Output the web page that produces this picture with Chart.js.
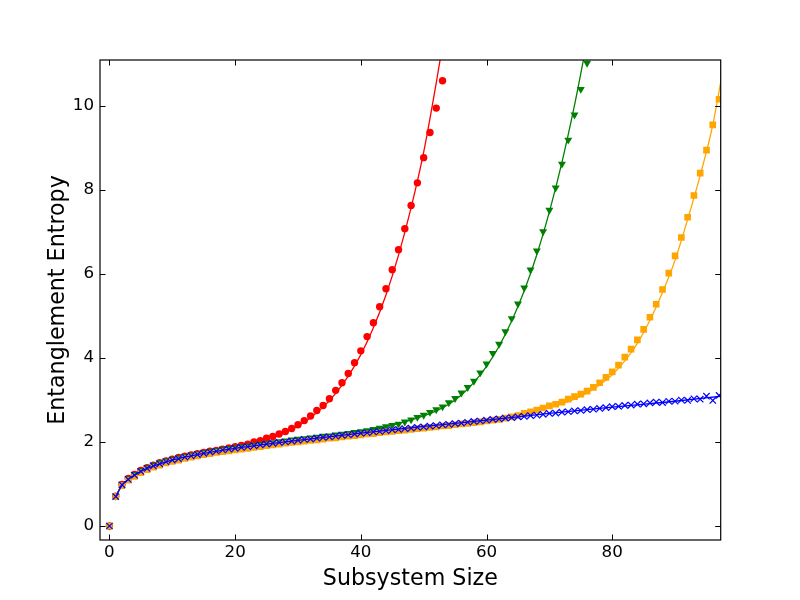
<!DOCTYPE html>
<html>
<head>
<meta charset="utf-8">
<script src="https://cdn.jsdelivr.net/npm/chart.js@4/dist/chart.umd.min.js"></script>
<style>
  html, body { margin: 0; padding: 0; background: #fff; }
  canvas { display: block; }
</style>
</head>
<body>
<canvas id="c" width="800" height="600"></canvas>
<script>
// ---- data ----
const xTicks = [0, 20, 40, 60, 80];
const yTicks = [0, 2, 4, 6, 8, 10];

const sizes = [
  0, 1, 2, 3, 4, 5, 6, 7, 8, 9,
  10, 11, 12, 13, 14, 15, 16, 17, 18, 19,
  20, 21, 22, 23, 24, 25, 26, 27, 28, 29,
  30, 31, 32, 33, 34, 35, 36, 37, 38, 39,
  40, 41, 42, 43, 44, 45, 46, 47, 48, 49,
  50, 51, 52, 53, 54, 55, 56, 57, 58, 59,
  60, 61, 62, 63, 64, 65, 66, 67, 68, 69,
  70, 71, 72, 73, 74, 75, 76, 77, 78, 79,
  80, 81, 82, 83, 84, 85, 86, 87, 88, 89,
  90, 91, 92, 93, 94, 95, 96, 97
];

const redY = [
  0, 0.71, 0.99, 1.13, 1.23, 1.32, 1.39, 1.45, 1.51, 1.55,
  1.59, 1.63, 1.66, 1.69, 1.72, 1.75, 1.78, 1.80, 1.83, 1.86,
  1.89, 1.92, 1.95, 2.00, 2.03, 2.09, 2.13, 2.19, 2.25, 2.32,
  2.41, 2.51, 2.62, 2.75, 2.87, 3.03, 3.23, 3.41, 3.63, 3.89,
  4.17, 4.51, 4.84, 5.22, 5.65, 6.10, 6.58, 7.08, 7.63, 8.17,
  8.77, 9.37, 9.95, 10.60
];

const greenY = [
  0, 0.71, 0.99, 1.13, 1.23, 1.32, 1.39, 1.45, 1.51, 1.55,
  1.59, 1.63, 1.66, 1.69, 1.72, 1.75, 1.78, 1.80, 1.83, 1.85,
  1.87, 1.89, 1.91, 1.93, 1.95, 1.97, 1.99, 2.01, 2.03, 2.05,
  2.07, 2.08, 2.10, 2.12, 2.14, 2.15, 2.17, 2.19, 2.21, 2.23,
  2.25, 2.27, 2.30, 2.33, 2.37, 2.40, 2.43, 2.48, 2.53, 2.59,
  2.64, 2.71, 2.77, 2.84, 2.94, 3.04, 3.17, 3.30, 3.45, 3.65,
  3.86, 4.11, 4.33, 4.63, 4.94, 5.29, 5.67, 6.10, 6.55, 7.01,
  7.52, 8.05, 8.62, 9.19, 9.79, 10.40, 11.02
];

const orangeY = [
  0, 0.70, 0.96, 1.09, 1.18, 1.27, 1.34, 1.40, 1.45, 1.50,
  1.54, 1.57, 1.61, 1.64, 1.67, 1.70, 1.72, 1.75, 1.77, 1.79,
  1.81, 1.83, 1.85, 1.87, 1.89, 1.91, 1.93, 1.95, 1.97, 1.99,
  2.00, 2.02, 2.04, 2.05, 2.07, 2.09, 2.10, 2.12, 2.14, 2.15,
  2.17, 2.19, 2.20, 2.22, 2.24, 2.25, 2.27, 2.28, 2.30, 2.32,
  2.33, 2.35, 2.36, 2.38, 2.39, 2.41, 2.43, 2.44, 2.46, 2.48,
  2.50, 2.52, 2.54, 2.57, 2.60, 2.63, 2.68, 2.72, 2.76, 2.81,
  2.86, 2.90, 2.95, 3.02, 3.08, 3.14, 3.21, 3.30, 3.41, 3.54,
  3.67, 3.83, 4.02, 4.21, 4.43, 4.68, 4.97, 5.28, 5.63, 6.02,
  6.43, 6.87, 7.35, 7.87, 8.40, 8.95, 9.55, 10.16
];

const blueY = [
  0, 0.70, 0.98, 1.11, 1.21, 1.30, 1.37, 1.43, 1.48, 1.53,
  1.57, 1.60, 1.64, 1.67, 1.70, 1.73, 1.76, 1.78, 1.81, 1.83,
  1.85, 1.87, 1.89, 1.91, 1.93, 1.95, 1.97, 1.99, 2.00, 2.02,
  2.04, 2.06, 2.07, 2.09, 2.11, 2.12, 2.14, 2.16, 2.17, 2.19,
  2.21, 2.22, 2.24, 2.25, 2.27, 2.29, 2.30, 2.32, 2.33, 2.35,
  2.36, 2.38, 2.39, 2.41, 2.42, 2.44, 2.45, 2.47, 2.49, 2.50,
  2.52, 2.54, 2.55, 2.57, 2.58, 2.60, 2.61, 2.63, 2.64, 2.66,
  2.68, 2.69, 2.71, 2.72, 2.74, 2.75, 2.77, 2.78, 2.80, 2.82,
  2.84, 2.85, 2.87, 2.88, 2.90, 2.91, 2.93, 2.95, 2.94, 2.97,
  2.97, 3.00, 2.99, 3.03, 3.02, 3.09, 2.99, 3.11
];

// fitted curves
const redFitX = [1, 2, 3, 4, 5, 6, 8, 10, 12, 15, 20, 22, 24, 26, 28, 30, 32, 34, 36, 38, 40, 42, 44, 46, 48, 50, 52, 53];
const redFitY = [0.70, 0.98, 1.12, 1.22, 1.31, 1.38, 1.49, 1.58, 1.65, 1.74, 1.87, 1.93, 2.01, 2.11, 2.23, 2.38, 2.58, 2.83, 3.16, 3.57, 4.08, 4.72, 5.50, 6.45, 7.58, 8.90, 10.55, 11.45];

const greenFitX = [1, 2, 3, 4, 5, 6, 8, 10, 12, 15, 20, 25, 30, 35, 40, 45, 50, 52, 54, 56, 58, 60, 62, 64, 66, 68, 70, 72, 74, 76];
const greenFitY = [0.70, 0.98, 1.12, 1.22, 1.31, 1.38, 1.49, 1.58, 1.65, 1.74, 1.86, 1.96, 2.05, 2.13, 2.24, 2.40, 2.62, 2.74, 2.90, 3.12, 3.42, 3.80, 4.28, 4.88, 5.60, 6.46, 7.48, 8.66, 10.02, 11.55];

const orangeFitX = [1, 2, 3, 4, 5, 6, 8, 10, 12, 15, 20, 25, 30, 40, 50, 60, 65, 70, 74, 76, 78, 80, 82, 84, 86, 88, 90, 92, 94, 96, 98];
const orangeFitY = [0.70, 0.96, 1.10, 1.19, 1.28, 1.35, 1.46, 1.55, 1.62, 1.71, 1.82, 1.92, 2.01, 2.18, 2.34, 2.50, 2.62, 2.82, 3.02, 3.17, 3.36, 3.60, 3.93, 4.35, 4.90, 5.56, 6.33, 7.30, 8.35, 9.55, 11.20];

const blueFitX = [1, 2, 3, 4, 5, 6, 8, 10, 12, 15, 20, 25, 30, 40, 50, 60, 70, 80, 90, 97.3];
const blueFitY = [0.70, 0.97, 1.11, 1.21, 1.30, 1.37, 1.48, 1.57, 1.64, 1.73, 1.85, 1.95, 2.04, 2.21, 2.37, 2.52, 2.68, 2.83, 2.97, 3.09];

// ---- helpers ----
const pts = (xs, ys) => ys.map((v, i) => ({ x: xs[i], y: v }));

const RED = '#ff0000', GREEN = '#008000', ORANGE = '#ffa500', BLUE = '#0000ff';

function markerSet(ys, color, style, radius, order, extra) {
  return Object.assign({
    data: pts(sizes, ys),
    showLine: false,
    pointStyle: style,
    pointRadius: radius,
    pointHoverRadius: radius,
    backgroundColor: color,
    borderColor: color,
    pointBorderWidth: 0,
    borderWidth: 0,
    order: order,
    clip: 0
  }, extra || {});
}
function fitSet(xs, ys, color, order) {
  return {
    data: pts(xs, ys),
    showLine: true,
    pointRadius: 0,
    pointHoverRadius: 0,
    borderColor: color,
    backgroundColor: color,
    borderWidth: 1.3,
    fill: false,
    cubicInterpolationMode: 'monotone',
    order: order,
    clip: 0
  };
}

const frameTicks = {
  id: 'frameTicks',
  beforeDraw(chart) {
    const c = chart.ctx;
    c.save();
    c.fillStyle = '#fff';
    c.fillRect(0, 0, chart.width, chart.height);
    c.restore();
  },
  afterDraw(chart) {
    const c = chart.ctx;
    const { left, right, top, bottom } = chart.chartArea;
    const xs = chart.scales.x, ys = chart.scales.y;
    const L = 5.5;
    c.save();
    c.strokeStyle = '#000';
    c.lineWidth = 1;
    c.beginPath();
    xTicks.forEach(v => {
      const p = Math.round(xs.getPixelForValue(v)) + 0.5;
      c.moveTo(p, bottom); c.lineTo(p, bottom - L);
      c.moveTo(p, top); c.lineTo(p, top + L);
    });
    yTicks.forEach(v => {
      const p = Math.round(ys.getPixelForValue(v)) + 0.5;
      c.moveTo(left, p); c.lineTo(left + L, p);
      c.moveTo(right, p); c.lineTo(right - L, p);
    });
    c.stroke();
    c.lineWidth = 1.2;
    c.strokeRect(left, top, right - left, bottom - top);
    c.restore();
  }
};

const FONT = 'DejaVu Sans';

new Chart(document.getElementById('c'), {
  type: 'scatter',
  data: {
    datasets: [
      markerSet(blueY, BLUE, 'crossRot', 4.5, 0, { borderWidth: 1.2, pointBorderWidth: 1.2 }),
      fitSet(blueFitX, blueFitY, BLUE, 1),
      markerSet(orangeY, ORANGE, 'rect', 4.7, 2),
      fitSet(orangeFitX, orangeFitY, ORANGE, 3),
      markerSet(greenY, GREEN, 'triangle', 4.6, 4, { pointRotation: 180 }),
      fitSet(greenFitX, greenFitY, GREEN, 5),
      markerSet(redY, RED, 'circle', 3.7, 6),
      fitSet(redFitX, redFitY, RED, 7)
    ]
  },
  options: {
    responsive: false,
    animation: false,
    events: [],
    layout: { padding: { left: 0, right: 79.3, top: 60, bottom: 0 } },
    plugins: { legend: { display: false }, tooltip: { enabled: false } },
    scales: {
      x: {
        type: 'linear',
        position: 'bottom',
        min: -1.5,
        max: 97.26,
        afterBuildTicks: s => { s.ticks = xTicks.map(v => ({ value: v })); },
        afterFit: s => { s.height = 60; },
        grid: { display: false, drawTicks: false },
        border: { display: false },
        ticks: { color: '#000', font: { family: FONT, size: 16.7 }, padding: 3, maxRotation: 0, autoSkip: false },
        title: { display: true, text: 'Subsystem Size', color: '#000', font: { family: FONT, size: 22.2 }, padding: { top: 0, bottom: 7.7 } }
      },
      y: {
        type: 'linear',
        position: 'left',
        min: -0.333,
        max: 11.095,
        afterBuildTicks: s => { s.ticks = yTicks.map(v => ({ value: v })); },
        afterFit: s => { s.width = 100; },
        grid: { display: false, drawTicks: false },
        border: { display: false },
        ticks: { color: '#000', font: { family: FONT, size: 16.7 }, padding: 6, autoSkip: false },
        title: { display: true, text: 'Entanglement Entropy', color: '#000', font: { family: FONT, size: 22.2 }, padding: { top: 44.7, bottom: 0 } }
      }
    }
  },
  plugins: [frameTicks]
});
</script>
</body>
</html>
